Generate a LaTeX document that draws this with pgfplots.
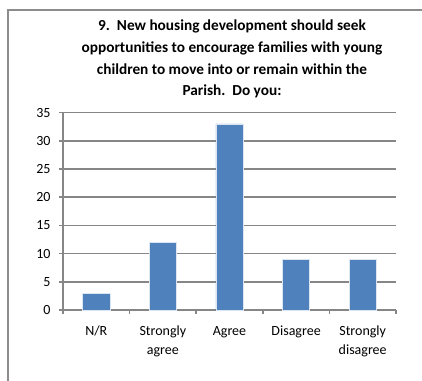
\documentclass[border=0pt]{standalone}
\usepackage{pgfplots}
\pgfplotsset{compat=1.18}
\usepackage{fontspec}
\setmainfont{Carlito}
\definecolor{barblue}{HTML}{4F81BD}
\definecolor{gridgray}{HTML}{868686}
\definecolor{framegray}{HTML}{8C8C8C}
\begin{document}
\begin{tikzpicture}[x=1bp,y=1bp]
\useasboundingbox (0,0) rectangle (422,381);
\fill[white] (0,0) rectangle (422,381);
\draw[framegray,line width=2bp] (8,0) -- (8,371) -- (422,371);
\node[align=center,font=\fontsize{15.3bp}{21.7bp}\selectfont\bfseries] at (232,322) {9.\ \ New housing development should seek\\opportunities to encourage families with young\\children to move into or remain within the\\Parish.\ \ Do you:};
\begin{axis}[
  at={(63bp,71bp)}, anchor=south west,
  scale only axis, width=333bp, height=197.4bp,
  xmin=-0.5, xmax=4.5, ymin=0, ymax=35,
  ytick={0,5,...,35},
  xtick=data,
  xticklabels={\strut N/R,{\strut Strongly\\\strut agree},\strut Agree,\strut Disagree,{\strut Strongly\\\strut disagree}},
  x tick label style={align=center,font=\fontsize{14bp}{19.3bp}\selectfont, yshift=-4bp},
  y tick label style={font=\fontsize{14bp}{16bp}\selectfont, xshift=-5bp},
  /pgf/number format/assume math mode=true,
  ymajorgrids,
  grid style={gridgray,line width=1.5bp},
  axis x line*=bottom, axis y line*=left,
  axis line style={gridgray,line width=1.5bp},
  x axis line style={-}, y axis line style={-},
  major tick length=4bp,
  xtick style={draw=none},
  ytick style={gridgray,line width=1.5bp},
  tick align=outside,
  extra x ticks={-0.5,0.5,1.5,2.5,3.5,4.5},
  extra x tick labels={},
  extra x tick style={xtick style={draw=gridgray,line width=1.5bp}, grid=none},
  ybar, bar width=27bp,
  clip=false,
]
\addplot[fill=barblue,draw=white!80!barblue,line width=0.6bp] coordinates {(0,3) (1,12) (2,33) (3,9) (4,9)};
\end{axis}
\end{tikzpicture}
\end{document}
